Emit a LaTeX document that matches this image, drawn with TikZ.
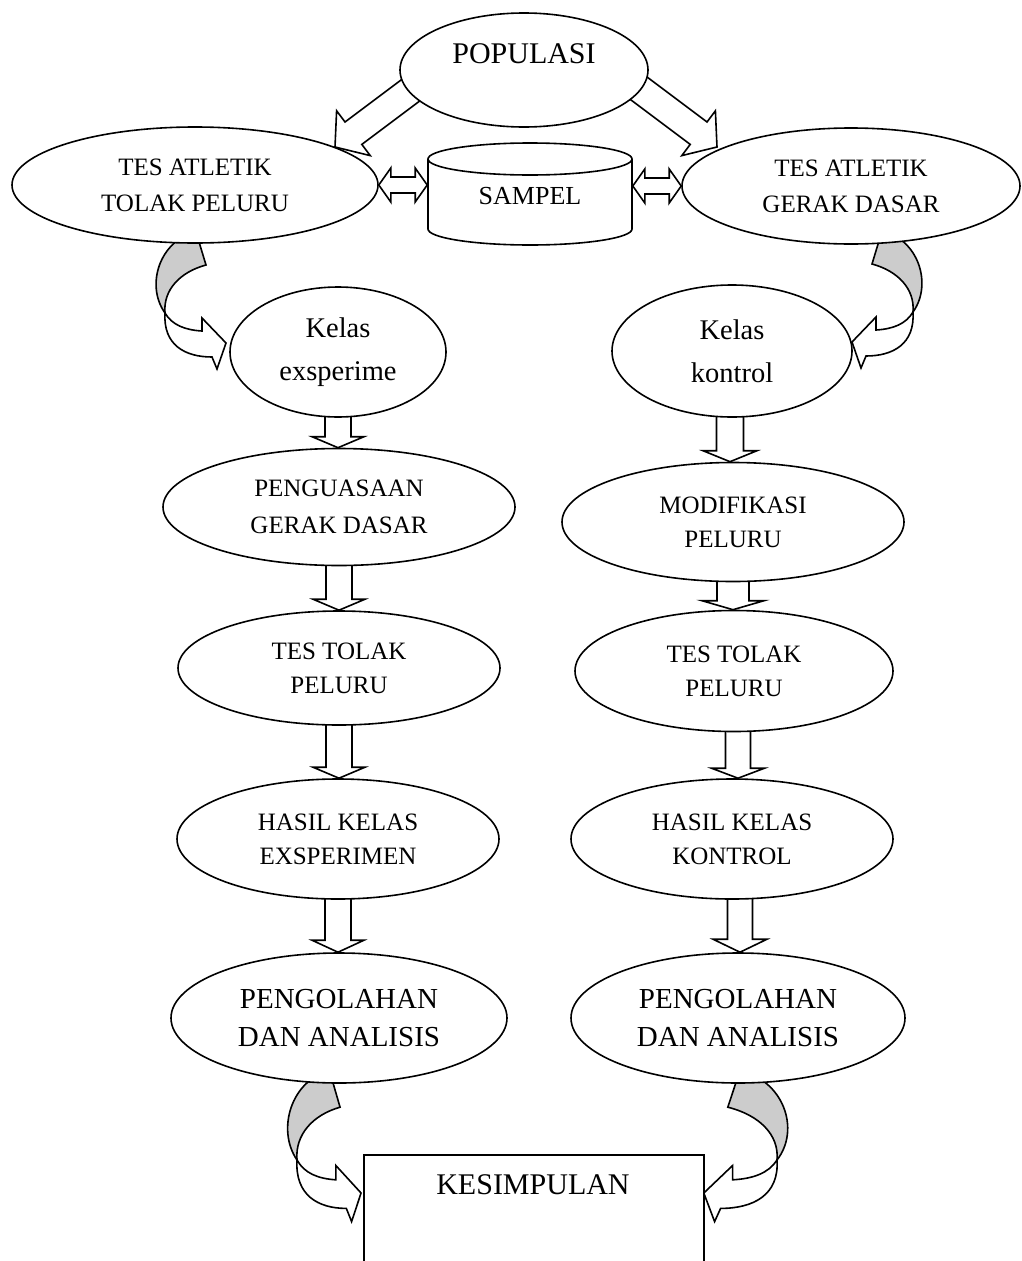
\documentclass[tikz,border=0pt]{standalone}
\usepackage{fontspec}
\setmainfont{Liberation Serif}
\usetikzlibrary{shapes.geometric,calc}
\pgfdeclarelayer{background}
\pgfdeclarelayer{foreground}
\pgfdeclarelayer{top}
\pgfsetlayers{background,main,foreground,top}
\definecolor{bandgray}{RGB}{204,204,204}
\newcommand{\fsz}[2]{\fontsize{#1}{#2}\selectfont}
% block arrow: #2 start, #3 tip, #4 shaft half width, #5 head half width, #6 head length
\newcommand{\blockarrow}[6][]{%
  \coordinate (ba-s) at #2; \coordinate (ba-t) at #3;
  \coordinate (ba-h) at ($(ba-t)!#6!(ba-s)$);
  \draw[blk,#1] ($(ba-s)!#4!90:(ba-t)$) -- ($(ba-h)!#4!-90:(ba-s)$) -- ($(ba-h)!#5!-90:(ba-s)$) -- (ba-t)
    -- ($(ba-h)!#5!90:(ba-s)$) -- ($(ba-h)!#4!90:(ba-s)$) -- ($(ba-s)!#4!-90:(ba-t)$) -- cycle;}
% double block arrow
\newcommand{\dblarrow}[2]{%
  \coordinate (da-a) at #1; \coordinate (da-b) at #2;
  \coordinate (da-ha) at ($(da-a)!12pt!(da-b)$); \coordinate (da-hb) at ($(da-b)!12pt!(da-a)$);
  \draw[blk] (da-a) -- ($(da-ha)!17pt!90:(da-b)$) -- ($(da-ha)!8pt!90:(da-b)$) -- ($(da-hb)!8pt!-90:(da-a)$)
    -- ($(da-hb)!17pt!-90:(da-a)$) -- (da-b) -- ($(da-hb)!17pt!90:(da-a)$) -- ($(da-hb)!8pt!90:(da-a)$)
    -- ($(da-ha)!8pt!-90:(da-b)$) -- ($(da-ha)!17pt!-90:(da-b)$) -- cycle;}
% curved (twisted band) arrow
\newcommand{\curvarrow}[1]{%
  \begin{scope}[#1]
  \draw[blk, fill=bandgray] (31,-81) .. controls (-5,-73) and (-20,-28) .. (0,0)
      .. controls (-2,-23) and (15,-41) .. (41,-48) -- cycle;
  \draw[blk] (0,0) .. controls (7,12) and (20,17) .. (37,18) -- (37,5) -- (61,30) -- (52,56) -- (47,44)
      .. controls (20,44) and (-2,32) .. (0,0) -- cycle;
  \end{scope}}
\begin{document}
\begin{tikzpicture}[x=1pt,y=-1pt,line width=1.6pt,
  blk/.style={draw=black, fill=white, line width=1.6pt, line join=miter},
  ell/.style={ellipse, draw, fill=white, line width=1.6pt, inner sep=0pt, align=center},
  txt/.style={align=center, inner sep=0pt}]
\useasboundingbox (0,0) rectangle (1021,1261);
\clip (0,0) rectangle (1021,1261);

% ---- nodes
\node[ell, minimum width=366pt, minimum height=116pt, font=\fsz{25}{36}] (tesL) at (195,185) {TES ATLETIK\\TOLAK PELURU};
\node[ell, minimum width=338pt, minimum height=116pt, font=\fsz{25}{36}] (tesR) at (851,186) {TES ATLETIK\\GERAK DASAR};

\draw[blk] (428,159) -- (428,229) .. controls (428,237.8) and (473.7,245) .. (530,245)
   .. controls (586.3,245) and (632,237.8) .. (632,229) -- (632,159);
\node[ell, minimum width=204pt, minimum height=32pt] (samtop) at (530,159) {};
\node[txt, font=\fsz{26}{30}] (sam) at (530,196) {SAMPEL};

\node[ell, minimum width=216pt, minimum height=130pt, font=\fsz{28.5}{43}] (kelasL) at (338,352) {Kelas\\exsperime};
\node[ell, minimum width=240pt, minimum height=132pt, font=\fsz{28.5}{43}] (kelasR) at (732,351) {Kelas\\kontrol};

\node[ell, minimum width=352pt, minimum height=117pt, font=\fsz{25}{37}] (pengL) at (339,507) {PENGUASAAN\\GERAK DASAR};
\node[ell, minimum width=342pt, minimum height=119pt, font=\fsz{25}{34}] (modR) at (733,522) {MODIFIKASI\\PELURU};

\node[ell, minimum width=322pt, minimum height=114pt, font=\fsz{25}{34}] (tolL) at (339,668) {TES TOLAK\\PELURU};
\node[ell, minimum width=318pt, minimum height=121pt, font=\fsz{25}{34}] (tolR) at (734,671) {TES TOLAK\\PELURU};

\node[ell, minimum width=322pt, minimum height=120pt, font=\fsz{25}{34}] (hasilL) at (338,839) {HASIL KELAS\\EXSPERIMEN};
\node[ell, minimum width=322pt, minimum height=120pt, font=\fsz{25}{34}] (hasilR) at (732,839) {HASIL KELAS\\KONTROL};

\node[ell, minimum width=336pt, minimum height=130pt, font=\fsz{29}{38}] (olahL) at (339,1018) {PENGOLAHAN\\DAN ANALISIS};
\node[ell, minimum width=334pt, minimum height=130pt, font=\fsz{29}{38}] (olahR) at (738,1018) {PENGOLAHAN\\DAN ANALISIS};

\node[draw, line width=1.6pt, fill=white, minimum width=340pt, minimum height=200pt, anchor=north, inner sep=0pt] (kesbox) at (534,1154) {};
\node[txt, font=\fsz{30}{36}] (kes) at (533,1185) {KESIMPULAN};

% ---- connectors behind the shapes
\begin{pgfonlayer}{background}
  \dblarrow{(tesL.east)}{(tesL.east -| samtop.west)}
  \dblarrow{(tesR.west -| samtop.east)}{(tesR.west)}

  \curvarrow{shift={(165,313)}}
  \curvarrow{shift={(913,312)}, xscale=-1}
  \curvarrow{shift={(297,1160)}, xscale=1.05, yscale=1.1}
  \curvarrow{shift={(777,1160)}, xscale=-1.2, yscale=1.1}

  \blockarrow{($(kelasL.south)+(0,-8)$)}{(kelasL.south |- pengL.north)}{13pt}{26pt}{11pt}
  \blockarrow{($(pengL.south)+(0,-8)$)}{(pengL.south |- tolL.north)}{13pt}{26pt}{11pt}
  \blockarrow{($(tolL.south)+(0,-8)$)}{(tolL.south |- hasilL.north)}{13pt}{26pt}{11pt}
  \blockarrow{($(hasilL.south)+(0,-8)$)}{(hasilL.south |- olahL.north)}{13pt}{26pt}{12pt}

  \blockarrow{($(kelasR.south)+(-2,-8)$)}{($(kelasR.south |- modR.north)+(-2,0)$)}{13.5pt}{27pt}{11pt}
  \blockarrow{($(modR.south)+(0,-8)$)}{(modR.south |- tolR.north)}{16pt}{31pt}{9pt}
  \blockarrow{($(tolR.south)+(4,-8)$)}{($(tolR.south |- hasilR.north)+(4,0)$)}{12.5pt}{26.5pt}{10pt}
  \blockarrow{($(hasilR.south)+(8,-8)$)}{($(hasilR.south |- olahR.north)+(8,0)$)}{12.5pt}{27pt}{13pt}
\end{pgfonlayer}

% ---- arrows from POPULASI
\begin{pgfonlayer}{foreground}
  \coordinate (dl-s) at (423,81); \coordinate (dl-t) at (335,147);
  \coordinate (dr-s) at (629,81); \coordinate (dr-t) at (717,147);
  \blockarrow{(dl-s)}{(dl-t)}{14pt}{28pt}{23pt}
  \blockarrow{(dr-s)}{(dr-t)}{14pt}{28pt}{23pt}
\end{pgfonlayer}

\begin{pgfonlayer}{top}
  \node[ell, minimum width=248pt, minimum height=114pt] (pop) at (524,70) {};
  \node[txt, font=\fsz{30}{36}] (popt) at (524,54) {POPULASI};
\end{pgfonlayer}
\end{tikzpicture}
\end{document}
